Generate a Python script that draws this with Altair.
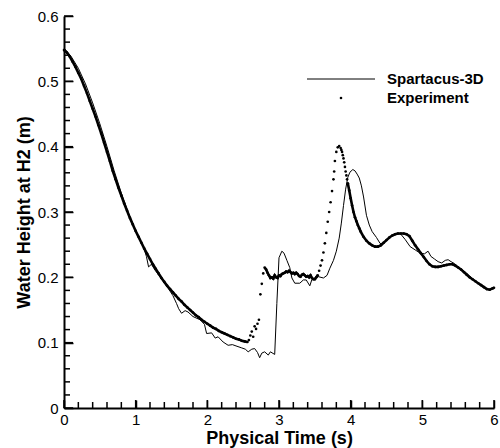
import altair as alt
import pandas as pd

# ---------------- data ----------------
sim_t = [0.00, 0.10, 0.20, 0.30, 0.40, 0.50, 0.60, 0.70, 0.80, 0.90, 1.00, 1.06, 1.11, 1.15, 1.18,
         1.22, 1.27, 1.35, 1.45, 1.52, 1.57, 1.60, 1.64, 1.69, 1.73, 1.80, 1.90, 1.96, 1.99, 2.06,
         2.11, 2.15, 2.22, 2.29, 2.35, 2.40, 2.48, 2.53, 2.57, 2.62, 2.66, 2.70, 2.73, 2.76, 2.80,
         2.85, 2.88, 2.94, 2.97, 3.00, 3.04, 3.07, 3.11, 3.15, 3.18, 3.22, 3.29, 3.34, 3.38, 3.43,
         3.46, 3.50, 3.55, 3.62, 3.67, 3.71, 3.76, 3.80, 3.84, 3.87, 3.90, 3.93, 3.96, 3.99, 4.03,
         4.06, 4.09, 4.12, 4.15, 4.18, 4.22, 4.26, 4.30, 4.36, 4.41, 4.45, 4.50, 4.55, 4.60, 4.66,
         4.70, 4.76, 4.83, 4.90, 4.97, 5.03, 5.08, 5.12, 5.17, 5.22, 5.27, 5.32, 5.36, 5.40, 5.45,
         5.50, 5.55, 5.60, 5.66, 5.72, 5.78, 5.84, 5.90, 5.94, 5.98, 6.00]
sim_h = [0.551, 0.538, 0.520, 0.496, 0.467, 0.435, 0.400, 0.363, 0.329, 0.298, 0.271, 0.257, 0.246, 0.232, 0.216,
         0.220, 0.211, 0.199, 0.184, 0.172, 0.160, 0.152, 0.145, 0.149, 0.147, 0.140, 0.135, 0.128, 0.114, 0.115,
         0.107, 0.109, 0.101, 0.096, 0.097, 0.095, 0.092, 0.090, 0.086, 0.090, 0.091, 0.085, 0.077, 0.084, 0.086,
         0.081, 0.086, 0.082, 0.160, 0.230, 0.240, 0.237, 0.226, 0.215, 0.199, 0.191, 0.191, 0.196, 0.196, 0.187,
         0.197, 0.199, 0.201, 0.199, 0.203, 0.214, 0.226, 0.240, 0.260, 0.283, 0.310, 0.335, 0.353, 0.361, 0.365,
         0.363, 0.358, 0.352, 0.340, 0.323, 0.295, 0.280, 0.270, 0.261, 0.252, 0.251, 0.257, 0.262, 0.265, 0.267,
         0.266, 0.258, 0.247, 0.242, 0.237, 0.236, 0.240, 0.232, 0.228, 0.224, 0.222, 0.226, 0.227, 0.224, 0.221,
         0.216, 0.212, 0.208, 0.202, 0.196, 0.191, 0.187, 0.182, 0.181, 0.183, 0.184]

exp_t = [0.00, 0.04, 0.08, 0.12, 0.16, 0.20, 0.24, 0.28, 0.32, 0.36, 0.40, 0.44, 0.48, 0.52, 0.56,
         0.60, 0.64, 0.68, 0.72, 0.76, 0.80, 0.84, 0.88, 0.92, 0.96, 1.00, 1.04, 1.08, 1.12, 1.16,
         1.20, 1.24, 1.28, 1.32, 1.36, 1.40, 1.44, 1.48, 1.52, 1.56, 1.60, 1.64, 1.68, 1.72, 1.76,
         1.80, 1.84, 1.88, 1.92, 1.96, 2.00, 2.04, 2.08, 2.12, 2.16, 2.20, 2.24, 2.28, 2.32, 2.36,
         2.40, 2.44, 2.48, 2.52, 2.56, 2.58, 2.60, 2.62, 2.64, 2.66, 2.68, 2.70, 2.72, 2.74, 2.76,
         2.78, 2.80, 2.82, 2.84, 2.86, 2.88, 2.90, 2.92, 2.94, 2.96, 2.98, 3.00, 3.02, 3.04, 3.06,
         3.08, 3.10, 3.12, 3.14, 3.16, 3.18, 3.20, 3.22, 3.24, 3.26, 3.28, 3.30, 3.32, 3.34, 3.36,
         3.38, 3.40, 3.42, 3.44, 3.46, 3.48, 3.50, 3.52, 3.54, 3.56, 3.58, 3.60, 3.62, 3.64, 3.66,
         3.68, 3.70, 3.72, 3.74, 3.76, 3.77, 3.78, 3.80, 3.82, 3.84, 3.86, 3.87, 3.88, 3.89, 3.90,
         3.91, 3.92, 3.93, 3.94, 3.95, 3.96, 3.98, 4.00, 4.02, 4.04, 4.06, 4.08, 4.10, 4.12, 4.14,
         4.18, 4.22, 4.26, 4.30, 4.34,
         4.38, 4.42, 4.46, 4.50, 4.54, 4.58, 4.62, 4.66, 4.70, 4.74, 4.78, 4.82, 4.86, 4.90, 4.94,
         4.98, 5.02, 5.06, 5.10, 5.14, 5.18, 5.22, 5.26, 5.30, 5.34, 5.38, 5.42, 5.46, 5.50, 5.54,
         5.58, 5.62, 5.66, 5.70, 5.74, 5.78, 5.82, 5.86, 5.90, 5.94, 5.98, 6.00]
exp_h = [0.548, 0.544, 0.538, 0.530, 0.522, 0.513, 0.504, 0.493, 0.482, 0.470, 0.458, 0.446, 0.433, 0.420, 0.406,
         0.392, 0.378, 0.363, 0.350, 0.337, 0.325, 0.313, 0.302, 0.291, 0.281, 0.271, 0.262, 0.253, 0.244, 0.236,
         0.228, 0.220, 0.213, 0.206, 0.199, 0.193, 0.187, 0.182, 0.177, 0.172, 0.167, 0.163, 0.158, 0.154, 0.150,
         0.146, 0.142, 0.139, 0.135, 0.132, 0.129, 0.126, 0.123, 0.121, 0.118, 0.116, 0.114, 0.112, 0.110, 0.108,
         0.106, 0.105, 0.103, 0.102, 0.101, 0.104, 0.111, 0.117, 0.109, 0.125, 0.121, 0.129, 0.135, 0.174, 0.190,
         0.206, 0.215, 0.212, 0.207, 0.203, 0.199, 0.200, 0.198, 0.203, 0.200, 0.199, 0.203, 0.202, 0.205, 0.206,
         0.207, 0.209, 0.208, 0.210, 0.208, 0.206, 0.207, 0.205, 0.207, 0.205, 0.202, 0.201, 0.204, 0.205, 0.203,
         0.201, 0.202, 0.200, 0.203, 0.199, 0.197, 0.197, 0.200, 0.203, 0.210, 0.218, 0.226, 0.238, 0.252, 0.268,
         0.285, 0.300, 0.315, 0.332, 0.350, 0.362, 0.378, 0.392, 0.399, 0.401, 0.398, 0.395, 0.392, 0.387, 0.382,
         0.376, 0.369, 0.362, 0.356, 0.350, 0.344, 0.333, 0.321, 0.310, 0.300, 0.292, 0.286, 0.280, 0.275, 0.270,
         0.262, 0.256, 0.252, 0.249, 0.247,
         0.247, 0.249, 0.253, 0.257, 0.261, 0.264, 0.266, 0.267, 0.267, 0.267, 0.266, 0.263, 0.256, 0.249, 0.243,
         0.237, 0.231, 0.225, 0.220, 0.217, 0.216, 0.216, 0.217, 0.218, 0.219, 0.220, 0.220, 0.218, 0.215, 0.212,
         0.208, 0.204, 0.200, 0.197, 0.194, 0.191, 0.188, 0.185, 0.182, 0.181, 0.183, 0.184]

legend_labels = ["Spartacus-3D", "Experiment"]
x_major = [0, 1, 2, 3, 4, 5, 6]
y_major = [0, 0.1, 0.2, 0.3, 0.4, 0.5, 0.6]
x_minor = [round(i * 0.2, 1) for i in range(31) if i % 5 != 0]
y_minor = [round(i * 0.02, 2) for i in range(31) if i % 5 != 0]

# ---------------- frames ----------------
sim = pd.DataFrame({"t": sim_t, "h": sim_h})
exp = pd.DataFrame({"t": exp_t, "h": exp_h})


def segment(t):
    if t <= 2.565:
        return "a"
    if 2.79 <= t <= 3.545:
        return "b"
    if t >= 3.955:
        return "c"
    return "none"


exp["seg"] = [segment(v) for v in exp_t]

FONT = "Liberation Sans"
W, H = 430, 392
XMAX, YMAX = 6.0, 0.6
xs = alt.Scale(domain=[0, XMAX], nice=False, zero=False)
ys = alt.Scale(domain=[0, YMAX], nice=False, zero=False)


def ylen(px):
    return px * YMAX / H


def xlen(px):
    return px * XMAX / W


# inward ticks drawn as short rules (data units)
xt_major = pd.DataFrame({"tv": [float(v) for v in x_major], "ta": [0.0] * len(x_major),
                         "tb": [ylen(8)] * len(x_major)})
yt_major = pd.DataFrame({"hv": [float(v) for v in y_major], "ha": [0.0] * len(y_major),
                         "hb": [xlen(9)] * len(y_major)})
xt_minor = pd.DataFrame({"tv": [float(v) for v in x_minor], "ta": [0.0] * len(x_minor),
                         "tb": [ylen(6)] * len(x_minor)})
yt_minor = pd.DataFrame({"hv": [float(v) for v in y_minor], "ha": [0.0] * len(y_minor),
                         "hb": [xlen(6)] * len(y_minor)})

sim_layer = alt.Chart(sim).mark_line(color="black", strokeWidth=1).encode(
    x=alt.X("t:Q", scale=xs, axis=alt.Axis(
        values=x_major, format="d", title="Physical Time (s)",
        ticks=True, tickSize=alt.ExprRef("-8"), tickColor="black", tickWidth=1.5,
        labelFlush=False, labelOverlap=False,
        labelFont=FONT, labelFontSize=15, labelColor="black", labelPadding=12,
        titleFont=FONT, titleFontSize=18, titleFontWeight="bold", titleColor="black", titlePadding=2,
        domainColor="black", domainWidth=2, grid=False)),
    y=alt.Y("h:Q", scale=ys, axis=alt.Axis(
        values=y_major, format=".1~f", title="Water Height at H2 (m)",
        ticks=True, tickSize=alt.ExprRef("-9"), tickColor="black", tickWidth=1.5,
        labelFlush=False, labelOverlap=False,
        labelFont=FONT, labelFontSize=15, labelColor="black", labelPadding=15,
        titleFont=FONT, titleFontSize=18, titleFontWeight="bold", titleColor="black", titlePadding=4,
        domainColor="black", domainWidth=2, grid=False)),
)


def xtick_layer(df):
    return alt.Chart(df).mark_rule(color="#000000", strokeWidth=1.5, opacity=1).encode(
        x=alt.X("tv:Q", scale=xs, title="Physical Time (s)"),
        y=alt.Y("ta:Q", scale=ys, title="Water Height at H2 (m)"),
        y2="tb:Q")


def ytick_layer(df):
    return alt.Chart(df).mark_rule(color="#000000", strokeWidth=1.5, opacity=1).encode(
        y=alt.Y("hv:Q", scale=ys, title="Water Height at H2 (m)"),
        x=alt.X("ha:Q", scale=xs, title="Physical Time (s)"),
        x2="hb:Q")


exp_points = alt.Chart(exp).mark_circle(color="black", size=7, opacity=1).encode(
    x=alt.X("t:Q", scale=xs),
    y=alt.Y("h:Q", scale=ys),
)

exp_line = alt.Chart(exp).transform_filter(alt.datum.seg != "none").mark_line(
    color="black", strokeWidth=2.6).encode(
    x=alt.X("t:Q", scale=xs),
    y=alt.Y("h:Q", scale=ys),
    detail="seg:N",
)

one = pd.DataFrame({"k": [0]})
leg_rule = alt.Chart(one).mark_rule(color="black", strokeWidth=1).encode(
    x=alt.value(243), x2=alt.value(311), y=alt.value(63))
leg_dot = alt.Chart(one).mark_circle(color="black", size=7, opacity=1).encode(
    x=alt.value(277), y=alt.value(82))
leg_t1 = alt.Chart(one).mark_text(text=legend_labels[0], align="left", baseline="middle", font=FONT,
                                  fontSize=15, fontWeight="bold", color="black").encode(
    x=alt.value(323), y=alt.value(63))
leg_t2 = alt.Chart(one).mark_text(text=legend_labels[1], align="left", baseline="middle", font=FONT,
                                  fontSize=15, fontWeight="bold", color="black").encode(
    x=alt.value(323), y=alt.value(82))

chart = alt.layer(
    sim_layer,
    xtick_layer(xt_major), ytick_layer(yt_major),
    xtick_layer(xt_minor), ytick_layer(yt_minor),
    exp_points, exp_line, leg_rule, leg_dot, leg_t1, leg_t2
).properties(
    width=W, height=H,
    autosize=alt.AutoSizeParams(type="none"),
    padding={"left": 64, "top": 16, "right": 6, "bottom": 40},
    background="white",
).configure_view(stroke=None)

chart.save("out.html", embed_options={"renderer": "svg", "actions": False})
